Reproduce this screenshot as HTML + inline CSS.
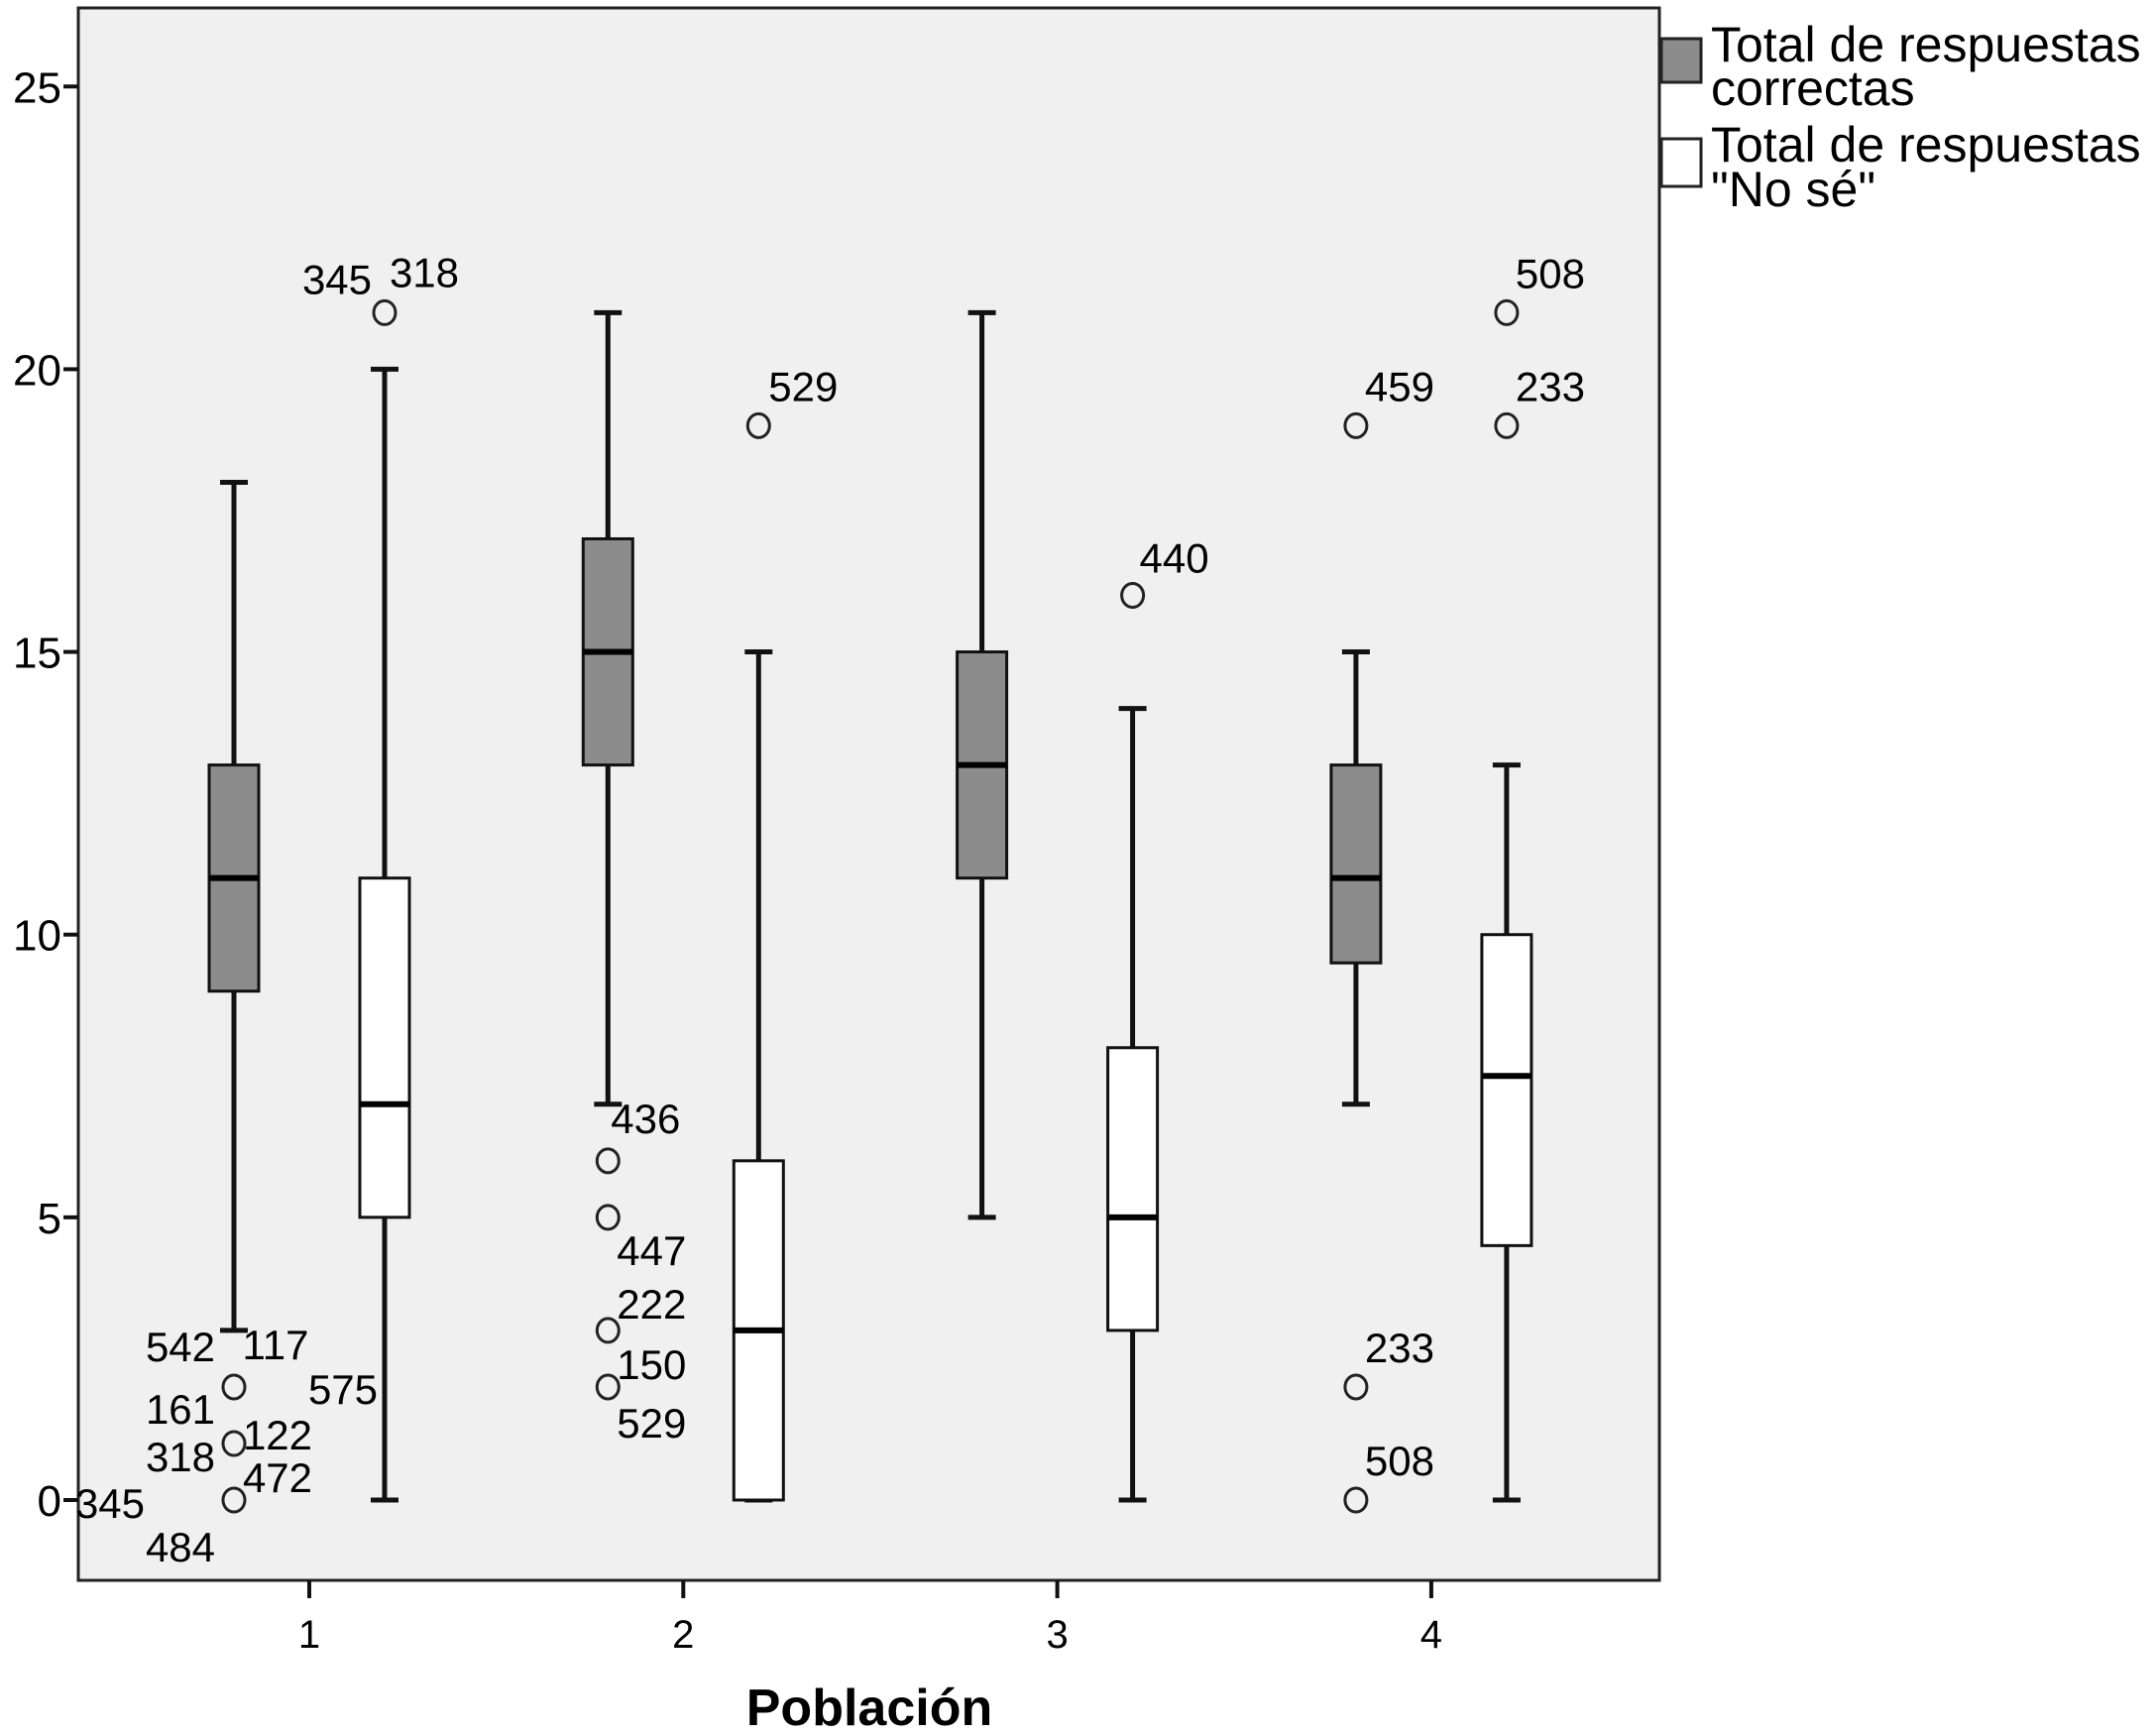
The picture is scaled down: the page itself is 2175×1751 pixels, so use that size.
<!DOCTYPE html>
<html><head><meta charset="utf-8"><style>
html,body{margin:0;padding:0;background:#fff;}
svg{display:block;font-family:"Liberation Sans",sans-serif;}
</style></head><body>
<svg id="chart" width="2175" height="1751" viewBox="0 0 2175 1751" xmlns="http://www.w3.org/2000/svg">
<rect x="79" y="8" width="1595" height="1586" fill="#f0f0f0" stroke="#222" stroke-width="3"/>
<g id="yaxis"></g>
<g id="xaxis"></g>
<g id="boxes"></g>
<g id="outl"></g>
<text x="877" y="1740" font-size="52" font-weight="bold" text-anchor="middle">Población</text>
<g>
<rect x="1676" y="39" width="40" height="44" fill="#8c8c8c" stroke="#222" stroke-width="3"/>
<text x="1726" y="62" font-size="50">Total de respuestas</text>
<text x="1726" y="106" font-size="50">correctas</text>
<rect x="1676" y="140" width="40" height="48" fill="#fff" stroke="#222" stroke-width="3"/>
<text x="1726" y="163" font-size="50">Total de respuestas</text>
<text x="1726" y="208" font-size="50">"No sé"</text>
</g>
</svg>
<script>
const categories = [1,2,3,4];
const yTicks = [0,5,10,15,20,25];
// [whiskerLow, q1, median, q3, whiskerHigh]
const correctStats = [[3,9,11,13,18],[7,13,15,17,21],[5,11,13,15,21],[7,9.5,11,13,15]];
const noseStats = [[0,5,7,11,20],[0,0,3,6,15],[0,3,5,8,14],[0,4.5,7.5,10,13]];
// outliers: [group, series(0=correct,1=nose), value]
const outlierValues = [[0,0,2],[0,0,1],[0,0,0],[0,1,21],[1,0,6],[1,0,5],[1,0,3],[1,0,2],[1,1,19],[2,1,16],[3,0,19],[3,0,2],[3,0,0],[3,1,21],[3,1,19]];
// labels: [group, series, value, text, dx, dy] offsets in px relative to point
const outlierLabels = [
 [0,0,2,"542",-54,-31],[0,0,2,"117",42,-33],[0,0,2,"161",-54,32],[0,0,1,"122",44,1],[0,0,1,"318",-54,23],[0,0,0,"472",44,-13],[0,0,0,"345",-125,13],[0,0,0,"484",-54,57],
 [0,1,21,"345",-48,-24],[0,1,21,"318",40,-31],[0,1,2,"575",-42,12],
 [1,0,7,"436",38,24],[1,0,5,"447",44,43],[1,0,3,"222",44,-17],[1,0,2,"150",44,-13],[1,0,2,"529",44,46],
 [1,1,19,"529",45,-30],[2,1,16,"440",42,-28],
 [3,0,19,"459",44,-30],[3,0,2,"233",44,-30],[3,0,0,"508",44,-30],
 [3,1,21,"508",44,-30],[3,1,19,"233",44,-30]];
const NS="http://www.w3.org/2000/svg";
const y0=1513, unit=57.03;
const yS=v=>y0-v*unit;
const xS=c=>312+(c-1)*377.3;
const off=[-76,76];
function mk(p,tag,attrs){const e=document.createElementNS(NS,tag);for(const k in attrs)e.setAttribute(k,attrs[k]);p.appendChild(e);return e;}
const ya=document.getElementById('yaxis');
yTicks.forEach(t=>{
 const l=mk(ya,'line',{x1:64,x2:79,y1:yS(t),y2:yS(t),stroke:'#111','stroke-width':4});
 
 
 const tx=mk(ya,'text',{x:62,y:yS(t)+16,'font-size':44,'text-anchor':'end'});tx.textContent=t;
 
 
});
const xa=document.getElementById('xaxis');
categories.forEach(c=>{
 const l=mk(xa,'line',{x1:xS(c),x2:xS(c),y1:1594,y2:1612,stroke:'#111','stroke-width':4});
 
 
 const tx=mk(xa,'text',{x:xS(c),y:1662,'font-size':40,'text-anchor':'middle'});tx.textContent=c;
 
 
});
const bx=document.getElementById('boxes');
function drawBox(stats,cx,fill,name){
 const g=mk(bx,'g',{});
 
 
 const [lo,q1,md,q3,hi]=stats;
 mk(g,'line',{x1:cx,x2:cx,y1:yS(hi),y2:yS(q3),stroke:'#111','stroke-width':5});
 mk(g,'line',{x1:cx,x2:cx,y1:yS(q1),y2:yS(lo),stroke:'#111','stroke-width':5});
 mk(g,'line',{x1:cx-14,x2:cx+14,y1:yS(hi),y2:yS(hi),stroke:'#111','stroke-width':5});
 mk(g,'line',{x1:cx-14,x2:cx+14,y1:yS(lo),y2:yS(lo),stroke:'#111','stroke-width':5});
 mk(g,'rect',{x:cx-25,y:yS(q3),width:50,height:Math.max(yS(q1)-yS(q3),0.1),fill:fill,stroke:'#111','stroke-width':3});
 mk(g,'line',{x1:cx-25,x2:cx+25,y1:yS(md),y2:yS(md),stroke:'#000','stroke-width':6});
}
categories.forEach((c,i)=>{
 drawBox(correctStats[i],xS(c)+off[0],'#8c8c8c','box-correctas-'+c);
 drawBox(noseStats[i],xS(c)+off[1],'#ffffff','box-nose-'+c);
});
const ol=document.getElementById('outl');
outlierValues.forEach(o=>{
 const c=mk(ol,'ellipse',{cx:xS(categories[o[0]])+off[o[1]],cy:yS(o[2]),rx:11,ry:12,fill:'none',stroke:'#222','stroke-width':3});
 
 
});
outlierLabels.forEach(o=>{
 const t=mk(ol,'text',{x:xS(categories[o[0]])+off[o[1]]+o[4],y:yS(o[2])+o[5]+5,'font-size':42,'text-anchor':'middle'});
 t.textContent=o[3];
 
 
});
</script>
</body></html>
